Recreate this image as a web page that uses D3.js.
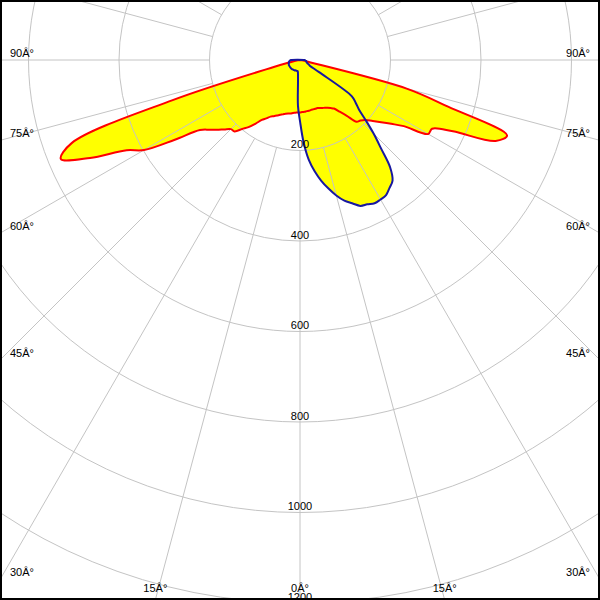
<!DOCTYPE html>
<html><head><meta charset="utf-8">
<script src="https://cdn.jsdelivr.net/npm/d3@7"></script>
<style>html,body{margin:0;padding:0;background:#fff;} svg{display:block;}</style>
</head><body><svg id="c" width="600" height="600"></svg>
<script>
// gamma angles (deg from nadir; negative = left half-plane)
const gammaAngles = [-90,-87.5,-85,-82.5,-80,-77.5,-75,-72.5,-70,-67.5,-65,-62.5,-60,-57.5,-55,-52.5,-50,-47.5,-45,-42.5,-40,-37.5,-35,-32.5,-30,-27.5,-25,-22.5,-20,-17.5,-15,-12.5,-10,-7.5,-5,-2.5,0,2.5,5,7.5,10,12.5,15,17.5,20,22.5,25,27.5,30,32.5,35,37.5,40,42.5,45,47.5,50,52.5,55,57.5,60,62.5,65,67.5,70,72.5,75,77.5,80,82.5,85,87.5,90];
// luminous intensity, red plane (cd)
const planeRed = [0,0,0,5,10,20,60,295,537,572,512,432,398,328,270,253,240,227,216,214,199,187,172,157,149,141,137,133,129,126,123,121,120,118,117,116,116,115,115,114,114,113,113,113,113,115,117,119,122,126,131,144,161,185,189,196,210,226,246,272,327,329,373,468,487,343,244,20,10,5,0,0,0];
// luminous intensity, blue plane (cd)
const planeBlue = [20,22,23,24,25,25,26,26,26,27,27,27,27,27,27,27,27,27,27,27,27,26,26,26,26,26,25,25,25,25,25,25,27,34,51,102,135,182,221,248,271,291,310,326,337,349,352,357,356,354,345,336,310,265,230,197,170,155,140,50,25,22,19,17,16,15,15,14,14,13,12,11,10];
const ringValues = [200,400,600,800,1000,1200];
const ringLabels = ["200","400","600","800","1000","1200"];
const spokeAngles = [0,15,30,45,60,75,90,105,120,135,150,165,180,195,210,225,240,255,270,285,300,315,330,345];
const labelAngles = [-90,-75,-60,-45,-30,-15,0,15,30,45,60,75,90];
const labelTexts = ["90Â°","75Â°","60Â°","45Â°","30Â°","15Â°","0Â°","15Â°","30Â°","45Â°","60Â°","75Â°","90Â°"];

const W = 600, H = 600, cx = 300, cy = 60;
const svg = d3.select("#c");
svg.append("rect").attr("width", W).attr("height", H).attr("fill", "#fff");

const r = d3.scaleLinear().domain([0, 1200]).range([0, 543]);
const a = d3.scaleLinear().domain([-180, 180]).range([2 * Math.PI, 0]);

const g = svg.append("g").attr("transform", `translate(${cx},${cy})`);

const line = d3.lineRadial()
  .angle((d, i) => a(gammaAngles[i]))
  .radius(d => r(d))
  .curve(d3.curveCatmullRomClosed.alpha(0.5));

// fills
g.append("path").attr("d", line(planeRed)).attr("fill", "#ffff00").attr("stroke", "none");
g.append("path").attr("d", line(planeBlue)).attr("fill", "#ffff00").attr("stroke", "none");

// grid
const grid = g.append("g").attr("fill", "none").attr("stroke", "#c4c4c4").attr("stroke-width", 1);
grid.selectAll("circle").data(ringValues).join("circle")
  .attr("cx", 0).attr("cy", 0).attr("r", d => r(d));
grid.selectAll("line").data(spokeAngles).join("line")
  .attr("x1", d => d3.pointRadial(a(d), r(200))[0])
  .attr("y1", d => d3.pointRadial(a(d), r(200))[1])
  .attr("x2", d => d3.pointRadial(a(d), r(1700))[0])
  .attr("y2", d => d3.pointRadial(a(d), r(1700))[1]);

// strokes
g.append("path").attr("d", line(planeRed)).attr("fill", "none")
  .attr("stroke", "#ff0000").attr("stroke-width", 2).attr("stroke-linejoin", "round");
g.append("path").attr("d", line(planeBlue)).attr("fill", "none")
  .attr("stroke", "#1818a0").attr("stroke-width", 2).attr("stroke-linejoin", "round");

// ring value labels
const font = "'Liberation Sans', Arial, sans-serif";
svg.selectAll("text.rv").data(ringValues).join("text").attr("class", "rv")
  .attr("x", cx).attr("y", d => cy + r(d) - 2.5)
  .attr("text-anchor", "middle").attr("font-family", font).attr("font-size", 11)
  .attr("fill", "#000").text((d, i) => ringLabels[i]);

// angle labels at frame edges
labelAngles.forEach((gm, i) => {
  const rad = gm * Math.PI / 180;
  const sx = Math.sin(rad), sy = Math.cos(rad);
  const tBottom = sy > 1e-6 ? (H - cy) / sy : Infinity;
  const tSide = Math.abs(sx) > 1e-6 ? cx / Math.abs(sx) : Infinity;
  let x, y, anchor;
  if (tSide <= tBottom) {
    y = cy + tSide * sy - 3.5;
    if (sx < 0) { x = 10; anchor = "start"; } else { x = 590; anchor = "end"; }
  } else {
    x = cx + tBottom * sx; y = 592; anchor = "middle";
  }
  svg.append("text").attr("x", x).attr("y", y).attr("text-anchor", anchor)
    .attr("font-family", font).attr("font-size", 11).attr("fill", "#000")
    .text(labelTexts[i]);
});

// frame
svg.append("rect").attr("x", 1).attr("y", 1).attr("width", W - 2).attr("height", H - 2)
  .attr("fill", "none").attr("stroke", "#000").attr("stroke-width", 2);
</script>
</body></html>
